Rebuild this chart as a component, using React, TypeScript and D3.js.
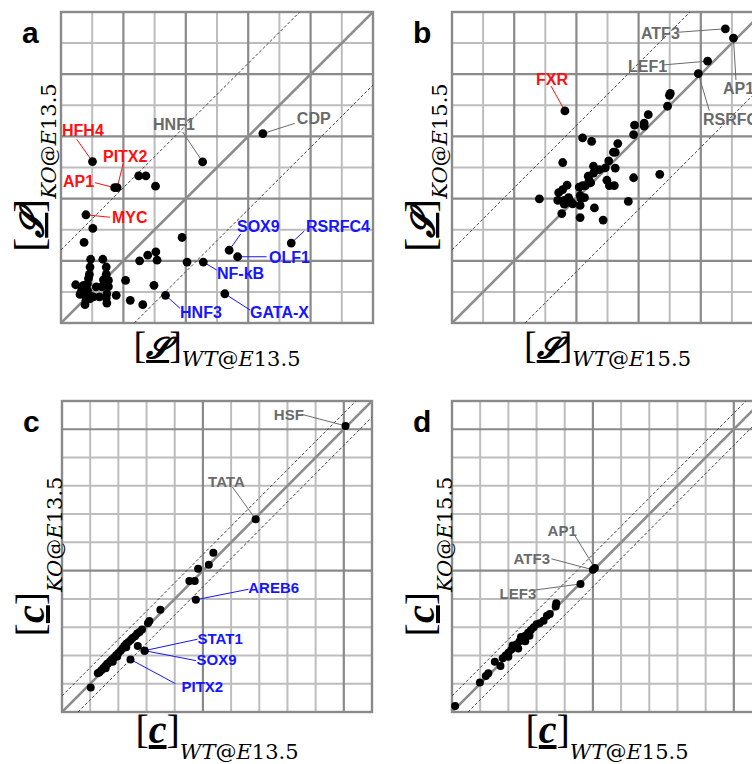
import * as d3 from 'd3'

type Pair = [number, number]
type Tone = 'up' | 'down' | 'same'
type Tag = { name: string; wt: number; ko: number; tone: Tone }

// a: similarity, WT vs KO at E13.5 (grid units)
const aPoints: Pair[] = [
  [2.49, 4.73], [2.72, 4.73], [3.03, 4.40], [1.02, 3.04], [0.74, 2.59], [3.88, 2.75],
  [3.04, 2.29], [2.78, 2.18], [2.52, 2.0], [3.08, 2.02], [4.04, 1.96],
  [0.95, 2.05], [1.34, 2.05], [0.93, 1.80], [1.45, 1.80], [0.91, 1.56], [1.45, 1.56],
  [0.88, 1.43], [1.36, 1.39], [1.52, 1.37], [0.47, 1.23], [0.72, 1.21], [0.85, 1.26],
  [1.13, 1.16], [1.31, 1.16], [0.61, 0.92], [0.74, 0.94], [0.91, 0.89], [1.04, 0.84],
  [1.23, 0.84], [1.47, 0.94], [0.80, 0.73], [0.77, 0.59], [0.93, 0.78], [1.45, 0.80],
  [1.47, 0.64], [1.77, 0.89], [2.07, 1.37], [2.22, 0.73], [2.62, 0.59], [2.98, 1.21],
  [0.66, 1.05], [0.85, 1.05], [1.52, 1.17],
]
const aTags: Tag[] = [
  { name: 'HFH4', wt: 1.01, ko: 5.19, tone: 'up' },
  { name: 'PITX2', wt: 1.80, ko: 4.35, tone: 'up' },
  { name: 'AP1', wt: 1.72, ko: 4.35, tone: 'up' },
  { name: 'MYC', wt: 0.80, ko: 3.48, tone: 'up' },
  { name: 'HNF1', wt: 4.54, ko: 5.18, tone: 'same' },
  { name: 'CDP', wt: 6.47, ko: 6.09, tone: 'same' },
  { name: 'SOX9', wt: 5.39, ko: 2.34, tone: 'down' },
  { name: 'RSRFC4', wt: 7.38, ko: 2.57, tone: 'down' },
  { name: 'OLF1', wt: 5.66, ko: 2.13, tone: 'down' },
  { name: 'NF-kB', wt: 4.56, ko: 1.96, tone: 'down' },
  { name: 'HNF3', wt: 3.35, ko: 0.89, tone: 'down' },
  { name: 'GATA-X', wt: 5.25, ko: 0.94, tone: 'down' },
]

// b: similarity at E15.5
const bPoints: Pair[] = [
  [6.99, 7.32], [7.02, 7.38], [6.93, 6.97], [6.31, 6.70], [6.18, 6.43], [6.18, 6.33],
  [5.87, 6.36], [5.84, 6.06], [4.20, 5.95], [4.49, 5.84], [5.33, 5.77], [5.19, 5.49],
  [5.25, 5.49], [3.56, 5.16], [5.04, 5.21], [4.55, 5.04], [4.55, 4.82], [4.74, 4.93],
  [4.93, 4.99], [5.25, 4.98], [4.38, 4.72], [4.41, 4.59], [4.46, 4.51], [4.98, 4.59],
  [5.06, 4.42], [5.22, 4.42], [5.84, 4.67], [6.68, 4.78], [3.70, 4.43], [3.43, 4.19],
  [3.56, 4.29], [4.09, 4.37], [4.20, 4.42], [4.29, 4.42], [2.81, 3.99], [3.40, 3.94],
  [3.61, 3.94], [3.67, 3.86], [3.83, 3.89], [3.88, 3.83], [3.75, 4.03], [4.12, 4.10],
  [4.15, 4.00], [4.26, 4.03], [4.12, 3.78], [3.61, 3.82], [3.53, 3.52], [4.12, 3.39],
  [4.58, 3.70], [4.86, 3.31], [5.67, 3.91],
]
const bTags: Tag[] = [
  { name: 'ATF3', wt: 8.79, ko: 9.46, tone: 'same' },
  { name: 'AP1', wt: 9.05, ko: 9.16, tone: 'same' },
  { name: 'LEF1', wt: 8.22, ko: 8.42, tone: 'same' },
  { name: 'RSRFC4', wt: 7.92, ko: 8.02, tone: 'same' },
  { name: 'FXR', wt: 3.63, ko: 6.82, tone: 'up' },
]

// c: concentration at E13.5
const cPoints: Pair[] = [
  [0.537, 0.563], [0.521, 0.521], [0.483, 0.507], [0.452, 0.463], [0.471, 0.463],
  [0.349, 0.362], [0.310, 0.322], [0.305, 0.314], [0.284, 0.292], [0.275, 0.283],
  [0.267, 0.278], [0.259, 0.268], [0.250, 0.262], [0.244, 0.255], [0.236, 0.248],
  [0.228, 0.241], [0.221, 0.233], [0.215, 0.225], [0.208, 0.217], [0.200, 0.209],
  [0.192, 0.201], [0.185, 0.193], [0.177, 0.186], [0.170, 0.179], [0.162, 0.171],
  [0.154, 0.163], [0.147, 0.156], [0.140, 0.148], [0.133, 0.141], [0.127, 0.137],
  [0.228, 0.229], [0.196, 0.196], [0.180, 0.178], [0.155, 0.155], [0.160, 0.170],
  [0.269, 0.233], [0.102, 0.087],
]
const cTags: Tag[] = [
  { name: 'HSF', wt: 1.006, ko: 1.012, tone: 'same' },
  { name: 'TATA', wt: 0.687, ko: 0.682, tone: 'same' },
  { name: 'AREB6', wt: 0.475, ko: 0.397, tone: 'down' },
  { name: 'STAT1', wt: 0.293, ko: 0.217, tone: 'down' },
  { name: 'SOX9', wt: 0.293, ko: 0.217, tone: 'down' },
  { name: 'PITX2', wt: 0.243, ko: 0.186, tone: 'down' },
]

// d: concentration at E15.5
const dPoints: Pair[] = [
  [0.011, 0.021], [0.099, 0.104], [0.120, 0.127], [0.129, 0.137], [0.152, 0.178],
  [0.172, 0.163], [0.180, 0.190], [0.190, 0.200], [0.200, 0.210], [0.210, 0.220],
  [0.220, 0.230], [0.230, 0.240], [0.240, 0.250], [0.250, 0.260], [0.260, 0.270],
  [0.270, 0.280], [0.280, 0.290], [0.290, 0.300], [0.300, 0.310], [0.311, 0.314],
  [0.325, 0.323], [0.337, 0.340], [0.347, 0.347], [0.368, 0.373], [0.370, 0.385],
  [0.235, 0.225], [0.260, 0.250], [0.215, 0.235], [0.200, 0.195], [0.245, 0.265],
  [0.275, 0.270],
]
const dTags: Tag[] = [
  { name: 'AP1', wt: 0.507, ko: 0.509, tone: 'same' },
  { name: 'ATF3', wt: 0.500, ko: 0.503, tone: 'same' },
  { name: 'LEF3', wt: 0.456, ko: 0.453, tone: 'same' },
]

// label placement: text dx, dy and leader start dx, dy (px from the dot)
const aPlace: Record<string, number[]> = {
  HFH4: [-30.5, -25.6, -15.8, -22.3], PITX2: [-14.2, -26, 6.1, -24.4], AP1: [-51.7, -0.4, -19.7, -5],
  MYC: [26, 8.5, 24, 2.5], HNF1: [-49.6, -31.9, -20, -30], CDP: [34, -9.6, 32, -10.3],
  SOX9: [7.8, -18.5, 11.5, -16.2], RSRFC4: [14.7, -11.4, 13, -12], OLF1: [31.4, 6.5, 29, 0],
  'NF-kB': [13.7, 17.3, 13.4, 8], HNF3: [14.5, 22.4, 14.5, 13], 'GATA-X': [25.2, 23.9, 25.2, 16.2],
}
const bPlace: Record<string, number[]> = {
  ATF3: [-84.4, 10.2, -47.7, 3.5], AP1: [-10.5, 55.9, 2.5, 42], LEF1: [-79.6, 10.6, -45.6, 3.9],
  RSRFC4: [4.7, 51.4, 11, 37.1], FXR: [-28.9, -25.9, -13.9, -24.9],
}
const cPlace: Record<string, number[]> = {
  HSF: [-71.7, -5.6, -44, -11.6], TATA: [-47.5, -32.2, -23.2, -32.2], AREB6: [52.4, -7.1, 52.7, -10.5],
  STAT1: [52.9, -6.4, 52.9, -11.4], SOX9: [51.9, 14.6, 51.6, 10], PITX2: [51, 32.6, 45, 24.3],
}
const dPlace: Record<string, number[]> = {
  AP1: [-47.3, -31.8, -20, -32.5], ATF3: [-79.3, -6, -41.6, -11], LEF3: [-80.9, 14.8, -47.6, 6.4],
}

const toneColor: Record<Tone, string> = { up: '#ff1010', down: '#1515ff', same: '#6a6a6a' }

const panels = [
  { key: 'a', left: 61, top: 12, width: 312, height: 311, max: 10, step: 1, major: 2, band: 2.35, r: 4.4, fs: 16,
    points: aPoints, tags: aTags, place: aPlace, sym: 'S', stage: '13.5' },
  { key: 'b', left: 452, top: 12, width: 311, height: 311, max: 10, step: 1, major: 2, band: 2.35, r: 4.4, fs: 16,
    points: bPoints, tags: bTags, place: bPlace, sym: 'S', stage: '15.5' },
  { key: 'c', left: 62, top: 401, width: 310, height: 311, max: 1.1, step: 0.1, major: 5, band: 0.057, r: 4, fs: 15,
    points: cPoints, tags: cTags, place: cPlace, sym: 'c', stage: '13.5' },
  { key: 'd', left: 452, top: 401, width: 310, height: 311, max: 1.1, step: 0.1, major: 5, band: 0.057, r: 4, fs: 15,
    points: dPoints, tags: dTags, place: dPlace, sym: 'c', stage: '15.5' },
]

const serif = '"DejaVu Serif", serif'
const times = '"Liberation Serif", serif'

function AxisName({ sym, who, stage, transform, big, small, drop }: any) {
  const isS = sym === 'S'
  return (
    <text transform={transform} textAnchor="middle" fill="#000">
      <tspan fontFamily={times} fontSize={big}>[</tspan>
      <tspan fontFamily={times} fontSize={isS ? big * 0.78 : big} fontWeight="bold" fontStyle="italic"
        textDecoration="underline">
        {isS ? '𝓢' : 'c'}
      </tspan>
      <tspan fontFamily={times} fontSize={big}>]</tspan>
      <tspan fontFamily={serif} fontSize={small} fontStyle="italic" dy={drop}>{who}</tspan>
      <tspan fontFamily={serif} fontSize={small}>@</tspan>
      <tspan fontFamily={serif} fontSize={small} fontStyle="italic">E</tspan>
      <tspan fontFamily={serif} fontSize={small}>{stage}</tspan>
    </text>
  )
}

function Panel({ p }: any) {
  const x = d3.scaleLinear().domain([0, p.max]).range([p.left, p.left + p.width])
  const y = d3.scaleLinear().domain([0, p.max]).range([p.top + p.height, p.top])
  const lines = d3.range(1, Math.round(p.max / p.step)).map(i => ({ v: i * p.step, major: i % p.major === 0 }))
  const line = d3.line<Pair>().x(d => x(d[0])).y(d => y(d[1]))
  const clip = `clip-${p.key}`
  const cx = p.left + p.width / 2
  const cy = p.top + p.height / 2
  const isS = p.sym === 'S'

  return (
    <g>
      <defs>
        <clipPath id={clip}>
          <rect x={p.left} y={p.top} width={p.width} height={p.height} />
        </clipPath>
      </defs>
      {lines.filter(l => !l.major).map(l => (
        <g key={'m' + l.v} stroke="#bdbdbd" strokeWidth={2}>
          <line x1={x(l.v)} x2={x(l.v)} y1={p.top} y2={p.top + p.height} />
          <line x1={p.left} x2={p.left + p.width} y1={y(l.v)} y2={y(l.v)} />
        </g>
      ))}
      {lines.filter(l => l.major).map(l => (
        <g key={'M' + l.v} stroke="#8a8a8a" strokeWidth={2.2}>
          <line x1={x(l.v)} x2={x(l.v)} y1={p.top} y2={p.top + p.height} />
          <line x1={p.left} x2={p.left + p.width} y1={y(l.v)} y2={y(l.v)} />
        </g>
      ))}
      <rect x={p.left} y={p.top} width={p.width} height={p.height} fill="none" stroke="#8a8a8a" strokeWidth={2.4} />
      <g clipPath={`url(#${clip})`} fill="none">
        <path d={line([[0, 0], [p.max, p.max]])!} stroke="#8c8c8c" strokeWidth={2.6} />
        <path d={line([[0, p.band], [p.max - p.band, p.max]])!} stroke="#444" strokeWidth={1} strokeDasharray="3,2" />
        <path d={line([[p.band, 0], [p.max, p.max - p.band]])!} stroke="#444" strokeWidth={1} strokeDasharray="3,2" />
      </g>
      {p.tags.map((t: Tag) => {
        const pl = p.place[t.name]
        const px = x(t.wt)
        const py = y(t.ko)
        return (
          <line key={'l' + t.name} x1={px + pl[2]} y1={py + pl[3]} x2={px} y2={py}
            stroke={toneColor[t.tone]} strokeWidth={1} />
        )
      })}
      {p.points.map((d: Pair, i: number) => (
        <circle key={i} cx={x(d[0])} cy={y(d[1])} r={p.r} fill="#000" />
      ))}
      {p.tags.map((t: Tag) => (
        <circle key={'p' + t.name} cx={x(t.wt)} cy={y(t.ko)} r={p.r} fill="#000" />
      ))}
      {p.tags.map((t: Tag) => {
        const pl = p.place[t.name]
        return (
          <text key={'t' + t.name} x={x(t.wt) + pl[0]} y={y(t.ko) + pl[1]} fill={toneColor[t.tone]}
            fontFamily='"Liberation Sans", Arial, sans-serif' fontWeight="bold" fontSize={p.fs}>
            {t.name}
          </text>
        )
      })}
      <text x={p.left - 39} y={p.top + 31} fontFamily='"Liberation Sans", Arial, sans-serif'
        fontWeight="bold" fontSize={30} fill="#000">{p.key}</text>
      <AxisName sym={p.sym} who="WT" stage={p.stage} transform={`translate(${cx},${isS ? p.top + 346 : p.top + 342})`}
        big={isS ? 38 : 40} small={21} drop={isS ? 8 : 16} />
      <AxisName sym={p.sym} who="KO" stage={p.stage} transform={`translate(${p.left - 18},${cy}) rotate(-90)`}
        big={isS ? 42 : 40} small={21} drop={isS ? 13 : 18} />
    </g>
  )
}

export default function App() {
  return (
    <div style={{ position: 'absolute', left: 0, top: 0 }}>
      <svg width={752} height={764} style={{ display: 'block', background: '#fff' }}>
        {panels.map(p => <Panel key={p.key} p={p} />)}
      </svg>
    </div>
  )
}
